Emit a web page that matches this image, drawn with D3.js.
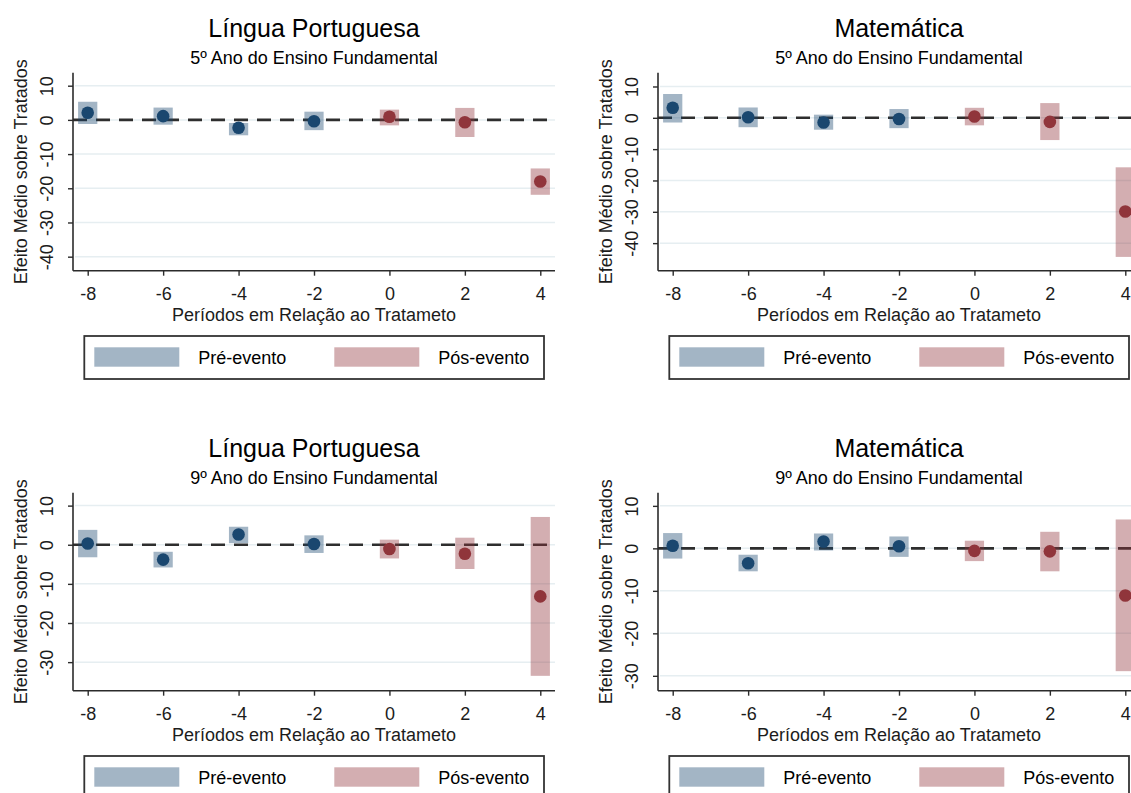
<!DOCTYPE html>
<html>
<head>
<meta charset="utf-8">
<script src="https://cdn.jsdelivr.net/npm/d3@7/dist/d3.min.js"></script>
<style>
  html, body { margin: 0; padding: 0; background: #ffffff; }
  svg { display: block; font-family: Arial, "Liberation Sans", sans-serif; }
</style>
</head>
<body>
<svg id="chart" width="1131" height="793"></svg>
<script>
// Event-study estimates: periods relative to treatment
const periods = [-8, -6, -4, -2, 0, 2, 4];
const phase = ["pre", "pre", "pre", "pre", "post", "post", "post"];
const xTicks = [-8, -6, -4, -2, 0, 2, 4];
const xDomain = [-8.39, 4.39];

// Língua Portuguesa – 5º ano
const lp5Coef = [2.1, 1.1, -2.3, -0.4, 0.9, -0.7, -18.0];
const lp5Lo   = [-1.2, -1.4, -4.5, -3.0, -1.6, -5.0, -21.9];
const lp5Hi   = [5.3, 3.6, -0.9, 2.4, 3.0, 3.5, -14.2];
// Matemática – 5º ano
const mt5Coef = [3.2, 0.2, -1.5, -0.4, 0.4, -1.3, -29.9];
const mt5Lo   = [-1.5, -3.0, -3.8, -3.3, -2.4, -7.1, -44.4];
const mt5Hi   = [7.6, 3.3, 1.0, 2.8, 3.2, 4.7, -15.8];
// Língua Portuguesa – 9º ano
const lp9Coef = [0.3, -3.8, 2.6, 0.2, -1.1, -2.3, -13.2];
const lp9Lo   = [-3.2, -5.8, 0.4, -2.1, -3.5, -6.2, -33.5];
const lp9Hi   = [3.8, -1.8, 4.6, 2.4, 1.3, 1.8, 7.1];
// Matemática – 9º ano
const mt9Coef = [0.6, -3.5, 1.6, 0.5, -0.6, -0.7, -11.1];
const mt9Lo   = [-2.4, -5.4, -0.5, -2.0, -3.0, -5.4, -28.9];
const mt9Hi   = [3.6, -1.5, 3.5, 2.8, 1.8, 3.9, 6.8];

const yTicks5 = [10, 0, -10, -20, -30, -40];
const yTicks9 = [10, 0, -10, -20, -30];

const panelTitles = ["Língua Portuguesa", "Matemática", "Língua Portuguesa", "Matemática"];
const panelSubtitles = ["5º Ano do Ensino Fundamental", "5º Ano do Ensino Fundamental",
                        "9º Ano do Ensino Fundamental", "9º Ano do Ensino Fundamental"];
const legendLabels = ["Pré-evento", "Pós-evento"];
const xAxisTitle = "Períodos em Relação ao Tratameto";
const yAxisTitle = "Efeito Médio sobre Tratados";

const panels = [
  { coef: lp5Coef, lo: lp5Lo, hi: lp5Hi, ticks: yTicks5, domain: [-44.1, 13.8] },
  { coef: mt5Coef, lo: mt5Lo, hi: mt5Hi, ticks: yTicks5, domain: [-48.8, 14.4] },
  { coef: lp9Coef, lo: lp9Lo, hi: lp9Hi, ticks: yTicks9, domain: [-37.3, 13.3] },
  { coef: mt9Coef, lo: mt9Lo, hi: mt9Hi, ticks: yTicks9, domain: [-33.5, 13.1] }
];

const colors = {
  pre:  { point: "#1a476f", band: "#1a476f" },
  post: { point: "#90353b", band: "#90353b" }
};
const bandOpacity = 0.4;

const svg = d3.select("#chart");
const panelW = 585, panelH = 420;
const plot = { left: 73, right: 555, top: 72.7, bottom: 270.7 };
const textColor = "#1c1c1c";
const axisColor = "#2b2b2b";
// plain hyphen for negative tick labels
const tickFmt = d => String(d);

panels.forEach((p, i) => {
  const col = i % 2, row = Math.floor(i / 2);
  const g = svg.append("g")
    .attr("transform", `translate(${col * panelW},${row * panelH})`);

  const x = d3.scaleLinear().domain(xDomain).range([plot.left, plot.right]);
  const y = d3.scaleLinear().domain(p.domain).range([plot.bottom, plot.top]);

  // titles
  const cx = (plot.left + plot.right) / 2;
  g.append("text").attr("x", cx).attr("y", 37)
    .attr("text-anchor", "middle").attr("font-size", 25).attr("fill", "#000")
    .text(panelTitles[i]);
  g.append("text").attr("x", cx).attr("y", 64)
    .attr("text-anchor", "middle").attr("font-size", 18).attr("fill", "#000")
    .text(panelSubtitles[i]);

  // horizontal grid lines
  g.append("g").selectAll("line").data(p.ticks).join("line")
    .attr("x1", plot.left + 2).attr("x2", plot.right)
    .attr("y1", d => y(d)).attr("y2", d => y(d))
    .attr("stroke", "#e6eef1").attr("stroke-width", 1.5);

  // reference line at zero
  g.append("line")
    .attr("x1", plot.left).attr("x2", plot.right)
    .attr("y1", y(0)).attr("y2", y(0))
    .attr("stroke", "#2e2e2e").attr("stroke-width", 2.6)
    .attr("stroke-dasharray", "14,9");

  // confidence bands
  const halfW = 0.255;
  g.append("g").selectAll("rect").data(periods).join("rect")
    .attr("x", (d) => x(d - halfW))
    .attr("width", (d) => x(d + halfW) - x(d - halfW))
    .attr("y", (d, k) => y(p.hi[k]))
    .attr("height", (d, k) => y(p.lo[k]) - y(p.hi[k]))
    .attr("fill", (d, k) => colors[phase[k]].band)
    .attr("fill-opacity", bandOpacity);

  // point estimates
  g.append("g").selectAll("circle").data(periods).join("circle")
    .attr("cx", d => x(d))
    .attr("cy", (d, k) => y(p.coef[k]))
    .attr("r", 6.3)
    .attr("fill", (d, k) => colors[phase[k]].point);

  // axes
  const yAxis = d3.axisLeft(y).tickValues(p.ticks).tickSize(5).tickPadding(4)
    .tickFormat(tickFmt);
  const ya = g.append("g").attr("transform", `translate(${plot.left},0)`).call(yAxis);
  ya.select(".domain").attr("d", `M0,${plot.top}V${plot.bottom}`)
    .attr("stroke", axisColor).attr("stroke-width", 1.6);
  ya.selectAll(".tick line").attr("stroke", axisColor).attr("stroke-width", 1.4);
  ya.selectAll(".tick text")
    .attr("font-size", 18).attr("font-family", "Arial, 'Liberation Sans', sans-serif")
    .attr("fill", textColor)
    .attr("x", null).attr("dy", null)
    .attr("text-anchor", "middle")
    .attr("transform", "translate(-20,0) rotate(-90)");

  const xAxis = d3.axisBottom(x).tickValues(xTicks).tickSize(5).tickPadding(4)
    .tickFormat(tickFmt);
  const xa = g.append("g").attr("transform", `translate(0,${plot.bottom})`).call(xAxis);
  xa.select(".domain").attr("d", `M${plot.left},0H${plot.right}`)
    .attr("stroke", axisColor).attr("stroke-width", 1.6);
  xa.selectAll(".tick line").attr("stroke", axisColor).attr("stroke-width", 1.4);
  xa.selectAll(".tick text")
    .attr("font-size", 18).attr("font-family", "Arial, 'Liberation Sans', sans-serif")
    .attr("fill", textColor).attr("dy", null).attr("y", 29.5);

  // axis titles
  g.append("text").attr("x", cx).attr("y", 321)
    .attr("text-anchor", "middle").attr("font-size", 18).attr("fill", textColor)
    .text(xAxisTitle);
  g.append("text")
    .attr("transform", `translate(27,${(plot.top + plot.bottom) / 2}) rotate(-90)`)
    .attr("text-anchor", "middle").attr("font-size", 18).attr("fill", textColor)
    .text(yAxisTitle);

  // legend
  const lg = g.append("g");
  lg.append("rect").attr("x", 84.3).attr("y", 336).attr("width", 459.7).attr("height", 43)
    .attr("fill", "#fff").attr("stroke", "#333").attr("stroke-width", 1.8);
  ["pre", "post"].forEach((k, j) => {
    const kx = 94.3 + j * 240;
    lg.append("rect").attr("x", kx).attr("y", 347.3).attr("width", 85).attr("height", 19.4)
      .attr("fill", colors[k].band).attr("fill-opacity", bandOpacity);
    lg.append("text").attr("x", kx + 104).attr("y", 363.5)
      .attr("font-size", 18).attr("fill", "#000").text(legendLabels[j]);
  });
});
</script>
</body>
</html>
